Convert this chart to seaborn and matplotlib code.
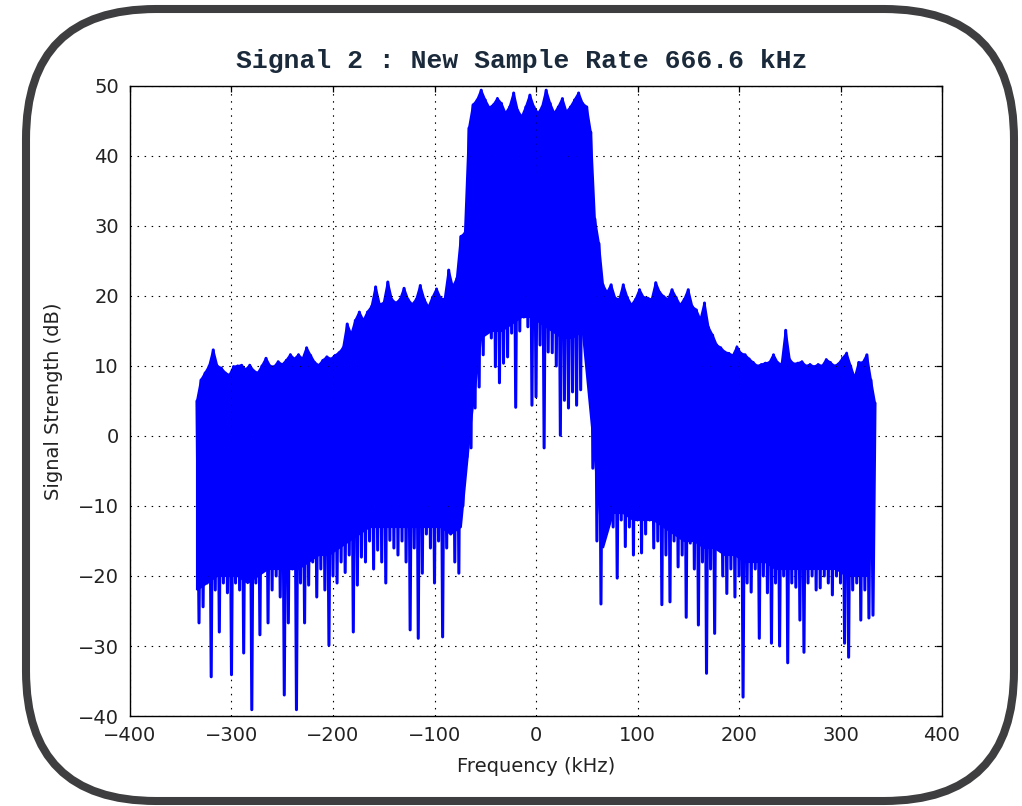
import numpy as np
import pandas as pd
import matplotlib
matplotlib.use("Agg")
import matplotlib.pyplot as plt
import seaborn as sns
from matplotlib.patches import FancyBboxPatch
from matplotlib.transforms import IdentityTransform

# ---------------- data ----------------
title_text = "Signal 2 : New Sample Rate 666.6 kHz"
x_label = "Frequency (kHz)"
y_label = "Signal Strength (dB)"
x_ticks = [-400, -300, -200, -100, 0, 100, 200, 300, 400]
y_ticks = [-40, -30, -20, -10, 0, 10, 20, 30, 40, 50]

# frequency grid of the local maxima / minima of the spectrum trace
peak_freq_khz = np.arange(-334, 335, 4)
trough_freq_khz = np.arange(-332, 333, 4)
# frequency grid of the solid (densely covered) lower edge of the trace
floor_freq_khz = np.arange(-334, 327, 10)

# local maxima (upper envelope), dB
peak_db = [
    5, 8, 9, 10, 12.3, 10, 9.7, 9, 8.7, 9.9,
    10, 10.1, 9.5, 10.1, 9.3, 9, 10, 11.1, 10, 9.9,
    10.6, 10.2, 10.8, 11.6, 11, 11.6, 11, 12.6, 11.5, 10.5,
    10.1, 10.8, 11.3, 11, 11.5, 11.9, 12.6, 16, 14.5, 16.5,
    17.7, 16.5, 17.7, 18.5, 21.3, 18.8, 19, 22, 19.5, 19,
    19.5, 21.1, 19.5, 18.8, 19.5, 21.5, 19.5, 18.4, 19.8, 21,
    19.7, 19.5, 23.7, 21.3, 22.5, 28.5, 29, 44, 47.3, 48,
    49.4, 48, 46.9, 47.3, 48.2, 47.5, 46.1, 47, 49, 46.5,
    45.6, 47, 48.7, 47, 46.1, 47, 49.4, 47.5, 46.1, 47,
    48.2, 46.3, 47, 48, 49, 47.5, 47, 43.4, 31, 27.5,
    21.6, 20.5, 21.6, 19.7, 19.5, 21.6, 19.8, 18.7, 19.5, 20.9,
    19.8, 19.7, 19.5, 21.9, 20.5, 19.9, 19.5, 20.9, 19.8, 18.7,
    19.5, 20.9, 18.5, 18, 16.6, 19, 15.5, 14.4, 13, 12.6,
    12, 11.8, 11.5, 12.7, 11.8, 11.6, 11, 10.5, 10, 10.2,
    10.4, 10.5, 11.6, 10.5, 10.2, 15.1, 10.9, 10.3, 10.4, 10.6,
    10, 10.2, 9.9, 10.2, 10, 10.9, 10.5, 10, 10.3, 11.1,
    11.8, 10, 8.3, 10.5, 10.5, 11.6, 8, 4.7,
]

# local minima (lower envelope), dB
trough_db = [
    -26.7, -24.4, -21, -34.4, -22, -28, -21, -22.4, -34.1, -21,
    -22, -31, -20, -39.1, -21, -28.4, -19, -26.7, -22, -20,
    -23, -37, -26.7, -19, -39.1, -21, -26.7, -21.3, -18, -23,
    -19, -22, -29.9, -20, -21, -18, -19.5, -17, -28, -21.3,
    -17.3, -18, -15, -19, -16.3, -18, -21, -14.9, -16, -17,
    -15, -18, -27.7, -16, -28.9, -19.6, -14, -16, -21, -15,
    -28.7, -16, -14, -18, -19.6, -10, -3, -1.7, 4, 7,
    11.6, 16, 14, 9.9, 7.6, 10.4, 11.3, 14.7, 4.1, 15,
    17, 15.6, 4.4, 5.6, 13, -1.7, 12, 11.9, 10, 0.1,
    5.1, 4, 6.3, 4.4, 6.6, 13.4, 7.7, -4.6, -15, -24,
    -14, -11, -13, -20.3, -12, -15.8, -13, -17, -12, -16.7,
    -14, -12, -16, -15, -24.1, -17, -23.7, -15, -18.7, -17,
    -25.9, -15.3, -19, -27, -18, -33.9, -19, -28.2, -14.4, -20,
    -22.5, -19, -23, -20, -37.3, -21, -22.3, -19, -28.9, -20,
    -22.4, -29.6, -21, -30, -20, -32.4, -21, -21.6, -26.3, -30.9,
    -21, -20, -22, -21.7, -20, -21, -22.7, -20, -21, -29.6,
    -31.6, -22, -21, -26.3, -22, -26, -25.6,
]

# solid lower edge of the densely drawn band, dB
floor_db = [
    -22, -21, -20, -20, -20, -21, -20, -19, -19, -19,
    -19, -18, -17, -17, -16, -15, -14, -13, -13, -13,
    -13, -13, -13, -13, -13, -14, -13, 2, 14, 15,
    15, 16, 17, 17, 16, 15, 14, 14, 15, 0,
    -16, -11, -11, -12, -12, -12, -13, -14, -15, -15,
    -16, -16, -17, -17, -18, -18, -18, -19, -19, -19,
    -19, -19, -19, -19, -20, -20, -20,
]

df = pd.DataFrame({
    "freq": np.concatenate([peak_freq_khz, trough_freq_khz]),
    "db": np.concatenate([np.asarray(peak_db, float), np.asarray(trough_db, float)]),
}).sort_values("freq").reset_index(drop=True)

# ---------------- figure ----------------
sns.set_theme(style="white")
plt.rcParams["font.family"] = ["DejaVu Sans"]
plt.rcParams["axes.unicode_minus"] = True

W, H = 1022, 806
fig = plt.figure(figsize=(W / 100, H / 100), dpi=100)
fig.patch.set_facecolor("white")

ax = fig.add_axes([130 / W, 1 - 716 / H, 812 / W, 630 / H])
ax.set_facecolor("white")

blue = "#0000ff"
# dense body of the trace: between the maxima and the solid lower edge
ax.fill(np.concatenate([peak_freq_khz, floor_freq_khz[::-1]]),
        np.concatenate([np.asarray(peak_db, float), np.asarray(floor_db, float)[::-1]]),
        facecolor=blue, edgecolor=blue, linewidth=1.5, zorder=2)

sns.lineplot(data=df, x="freq", y="db", ax=ax, color=blue,
             linewidth=2.2, estimator=None, sort=True, zorder=3)

ax.set_xlim(-400, 400)
ax.set_ylim(-40, 50)
ax.set_xticks(x_ticks)
ax.set_yticks(y_ticks)
ax.grid(True, color="black", linestyle=(0, (1.35, 5)), linewidth=0.8)
ax.set_axisbelow(False)

for s in ax.spines.values():
    s.set_color("black")
    s.set_linewidth(1.0)
    s.set_visible(True)

ax.tick_params(axis="both", direction="in", top=True, right=True,
               length=4, width=0.9, colors="black", labelsize=14)
ax.tick_params(axis="x", pad=7)
ax.tick_params(axis="y", pad=8)
for lbl in ax.get_xticklabels() + ax.get_yticklabels():
    lbl.set_color("#222222")

ax.set_xlabel(x_label, fontsize=14, color="#222222")
ax.set_ylabel(y_label, fontsize=14, color="#222222")
ax.xaxis.set_label_coords(0.5, -0.065)
ax.yaxis.set_label_coords(-0.083, 0.5)

ax.set_title(title_text, family=["Liberation Mono", "DejaVu Sans Mono"],
             fontweight="bold", fontsize=19, color="#1b2a3a", pad=13,
             x=0.483)

# rounded frame around the whole picture (display pixel coordinates)
frame = FancyBboxPatch((26, 5), 988, 792,
                       boxstyle="round,pad=0,rounding_size=130",
                       transform=IdentityTransform(), facecolor="none",
                       edgecolor="#3e3e40", linewidth=5.8, clip_on=False)
fig.add_artist(frame)

fig.savefig("out.png", dpi=100)
